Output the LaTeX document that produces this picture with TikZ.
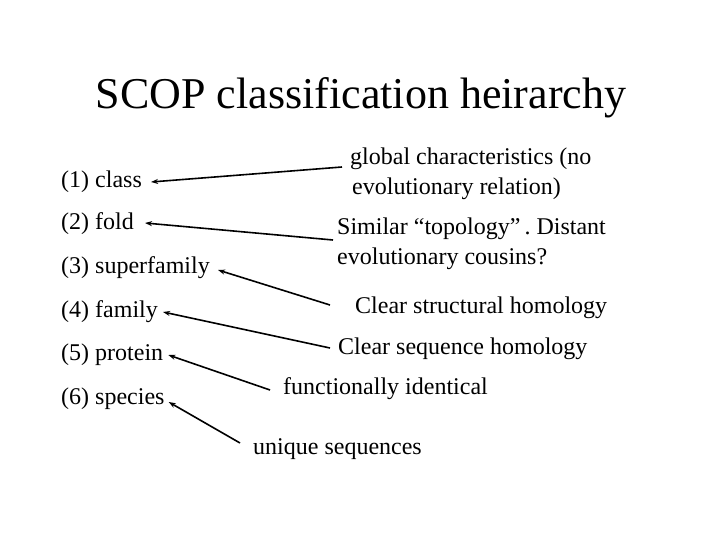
\documentclass[tikz,border=0pt]{standalone}
\usepackage{fontspec}
\setmainfont{Liberation Serif}
\frenchspacing
\usetikzlibrary{arrows.meta}
\begin{document}
\begin{tikzpicture}[x=1pt,y=-1pt,
  lbl/.style={anchor=west, inner sep=0pt, font=\fontsize{24}{30}\selectfont},
  txt/.style={lbl, align=left},
  link/.style={draw, line width=1.6pt, -{Stealth[length=7pt,width=5pt]}}]
\useasboundingbox (0,0) rectangle (720,540);
\node[font=\fontsize{44}{50}\selectfont] (title) at (361,98) {SCOP classification heirarchy};
\node[lbl] (1) at (61,182) {(1) class};
\node[lbl] (2) at (61,224) {(2) fold};
\node[lbl] (3) at (61,268) {(3) superfamily};
\node[lbl] (4) at (61,312) {(4) family};
\node[lbl] (5) at (61,355) {(5) protein};
\node[lbl] (6) at (61,399) {(6) species};
\node[txt] (gl) at (350,174) {global characteristics (no\\\hspace{2pt}evolutionary relation)};
\node[txt] (sim) at (337,244) {Similar “topology”\,. Distant\\evolutionary cousins?};
\node[lbl] (str) at (355,308) {Clear structural homology};
\node[lbl] (seq) at (338,349) {Clear sequence homology};
\node[lbl] (fun) at (283,389) {functionally identical};
\node[lbl] (uni) at (253,449) {unique sequences};
\path[link] ([xshift=-8pt,yshift=7pt]gl.west) -- ([xshift=9pt]1.east);
\path[link] ([xshift=-4pt,yshift=4pt]sim.west) -- ([xshift=11pt,yshift=1pt]2.east);
\path[link] ([xshift=-25pt,yshift=3pt]str.west) -- ([xshift=8pt,yshift=-2pt]3.east);
\path[link] ([xshift=-8pt,yshift=1pt]seq.west) -- ([xshift=5pt]4.east);
\path[link] ([xshift=-13pt,yshift=-1pt]fun.west) -- ([xshift=5pt]5.east);
\path[link] ([xshift=-13pt,yshift=6pt]uni.west) -- ([xshift=4pt,yshift=-3pt]6.east);
\end{tikzpicture}
\end{document}
